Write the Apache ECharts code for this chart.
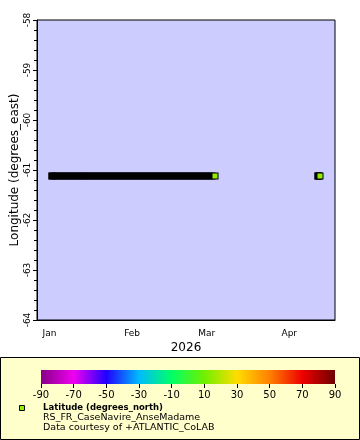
<!DOCTYPE html>
<html><head><meta charset="utf-8">
<script src="https://cdn.jsdelivr.net/npm/echarts@6/dist/echarts.min.js"></script>
<style>html,body{margin:0;padding:0;background:#fff}#c{width:360px;height:440px}</style>
</head><body><div id="c"></div>
<script>
// ---- data ----
const stationName = 'RS_FR_CaseNavire_AnseMadame';
const stationLon = -61.12;   // degrees_east
const stationLat = 14.65;    // degrees_north
const obsTimes = [
  '2026-01-01 22:00','2026-01-02','2026-01-03','2026-01-04','2026-01-05','2026-01-06','2026-01-07','2026-01-08',
  '2026-01-09','2026-01-10','2026-01-11','2026-01-12','2026-01-13','2026-01-14','2026-01-15','2026-01-16',
  '2026-01-17','2026-01-18','2026-01-19','2026-01-20','2026-01-21','2026-01-22','2026-01-23','2026-01-24',
  '2026-01-25','2026-01-26','2026-01-27','2026-01-28','2026-01-29','2026-01-30','2026-01-31',
  '2026-02-01','2026-02-02','2026-02-03','2026-02-04','2026-02-05','2026-02-06','2026-02-07','2026-02-08',
  '2026-02-09','2026-02-10','2026-02-11','2026-02-12','2026-02-13','2026-02-14','2026-02-15','2026-02-16',
  '2026-02-17','2026-02-18','2026-02-19','2026-02-20','2026-02-21','2026-02-22','2026-02-23','2026-02-24',
  '2026-02-25','2026-02-26','2026-02-27','2026-02-28',
  '2026-03-01','2026-03-02','2026-03-03','2026-03-04 05:00',
  '2026-04-11 15:00','2026-04-11 23:00','2026-04-12 08:00','2026-04-12 17:00'
];
const monthLabels = ['Jan','Feb','Mar','Apr','May','Jun','Jul','Aug','Sep','Oct','Nov','Dec'];
const xAxisTitle = '2026';
const yAxisTitle = 'Longitude (degrees_east)';
const colorTitle = 'Latitude (degrees_north)';
const creditText = 'Data courtesy of +ATLANTIC_CoLAB';
const colorMin = -90, colorMax = 90;
const colorTicks = [-90,-70,-50,-30,-10,10,30,50,70,90];
const paletteColors = ['#880088','#f000f0','#2000ff','#00bbff','#00ff66','#70f000','#ffdd00','#ff8000','#ee0000','#700000'];

const FONT = 'DejaVu Sans';
const points = obsTimes.map(t => [t, stationLon, stationLat]);
const markerColor = echarts.color.lerp((stationLat - colorMin) / (colorMax - colorMin), paletteColors);

const chart = echarts.init(document.getElementById('c'), null, {renderer: 'canvas'});
chart.setOption({
  animation: false,
  backgroundColor: '#ffffff',
  grid: [
    {left: 37, top: 20, width: 298, height: 300, show: true, backgroundColor: '#ccccff', borderColor: '#000', borderWidth: 1,
     containLabel: false, outerBoundsMode: 'none'},
    {left: 41, top: 370, width: 294, height: 14, show: true, borderWidth: 0, containLabel: false, outerBoundsMode: 'none',
     backgroundColor: {type: 'linear', x: 0, y: 0, x2: 1, y2: 0,
       colorStops: paletteColors.map((c, i) => ({offset: i / (paletteColors.length - 1), color: c}))}}
  ],
  xAxis: [
    {type: 'time', gridIndex: 0, min: '2025-12-27 07:00', max: '2026-04-18 04:00',
     minInterval: 28 * 86400000,
     name: xAxisTitle, nameLocation: 'middle', nameGap: 22, nameMoveOverlap: false,
     nameTextStyle: {fontFamily: FONT, fontSize: 12, color: '#000'},
     axisLine: {lineStyle: {color: '#000'}},
     axisTick: {show: false},
     splitLine: {show: false},
     axisLabel: {fontFamily: FONT, fontSize: 9, color: '#000', margin: 9,
       formatter: v => monthLabels[new Date(v).getMonth()]}},
    {type: 'value', gridIndex: 1, min: 0, max: colorMax - colorMin, interval: 20,
     axisLine: {show: false},
     axisTick: {show: true, length: 4, lineStyle: {color: '#000'}},
     splitLine: {show: false},
     axisLabel: {fontFamily: FONT, fontSize: 10, color: '#000', margin: 6,
       formatter: v => String(colorTicks[Math.round(v / 20)])}}
  ],
  yAxis: [
    {type: 'value', gridIndex: 0, min: -64, max: -58, interval: 1,
     name: yAxisTitle, nameLocation: 'middle', nameGap: 16, nameMoveOverlap: false,
     nameTextStyle: {fontFamily: FONT, fontSize: 12, color: '#000'},
     axisLine: {show: true, lineStyle: {color: '#000'}},
     axisTick: {show: true, length: 4, lineStyle: {color: '#000'}},
     minorTick: {show: true, splitNumber: 5, length: 3, lineStyle: {color: '#000'}},
     splitLine: {show: false},
     axisLabel: {fontFamily: FONT, fontSize: 9, color: '#000', rotate: 90, margin: 5}},
    {type: 'value', gridIndex: 1, show: false, min: 0, max: 1}
  ],
  visualMap: {
    show: false, type: 'continuous', min: colorMin, max: colorMax, dimension: 2, seriesIndex: 0,
    inRange: {color: paletteColors}
  },
  graphic: [
    {type: 'rect', z: -100, shape: {x: 0.5, y: 357.5, width: 359, height: 82},
     style: {fill: '#ffffcc', stroke: '#000', lineWidth: 1}},
    {type: 'rect', z: 10, shape: {x: 19.5, y: 405.5, width: 5, height: 5},
     style: {fill: markerColor, stroke: '#000', lineWidth: 1}},
    {type: 'text', z: 10, x: 43, y: 408,
     style: {text: colorTitle, font: 'bold 8.5px "DejaVu Sans"', fill: '#000', verticalAlign: 'middle', textVerticalAlign: 'middle'}},
    {type: 'text', z: 10, x: 43, y: 418,
     style: {text: stationName, font: '9.5px "DejaVu Sans"', fill: '#000', verticalAlign: 'middle', textVerticalAlign: 'middle'}},
    {type: 'text', z: 10, x: 43, y: 427.5,
     style: {text: creditText, font: '9.5px "DejaVu Sans"', fill: '#000', verticalAlign: 'middle', textVerticalAlign: 'middle'}}
  ],
  series: [{
    type: 'custom',
    xAxisIndex: 0, yAxisIndex: 0,
    encode: {x: 0, y: 1},
    data: points,
    clip: true,
    renderItem: function (params, api) {
      const idx = params.dataIndexInside;
      const p = api.coord([api.value(0), api.value(1)]);
      const x = Math.round(p[0]), y = Math.round(p[1]);
      let covered = false;
      if (idx + 1 < params.dataInsideLength) {
        const q = api.coord([api.value(0, idx + 1), api.value(1, idx + 1)]);
        covered = Math.abs(q[0] - p[0]) < 6 && Math.abs(q[1] - p[1]) < 6;
      }
      const children = [{type: 'rect', shape: {x: x - 3.5, y: y - 3.5, width: 7, height: 7}, style: {fill: '#000'}}];
      if (!covered) {
        children.push({type: 'rect', shape: {x: x - 2.5, y: y - 2.5, width: 5, height: 5}, style: {fill: api.visual('color')}});
      }
      return {type: 'group', children: children};
    }
  }]
});
</script>
</body></html>
